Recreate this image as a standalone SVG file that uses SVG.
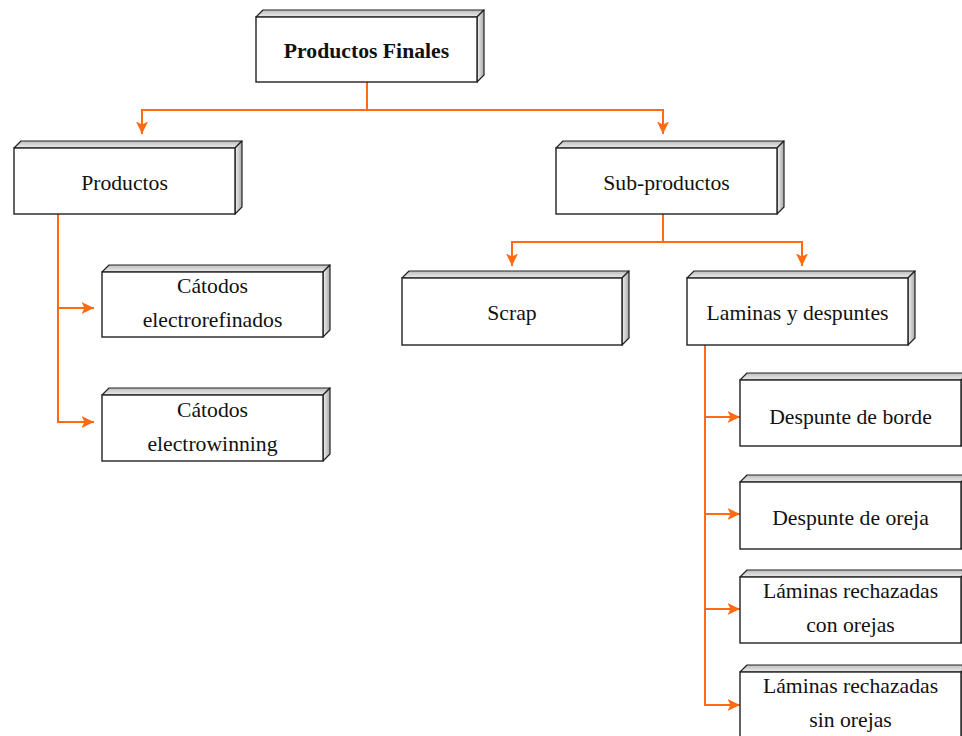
<svg xmlns="http://www.w3.org/2000/svg" width="962" height="736" viewBox="0 0 962 736">
  <defs>
    <linearGradient id="topFace" x1="0" y1="0" x2="0" y2="1">
      <stop offset="0" stop-color="#bdbdbd"/>
      <stop offset="1" stop-color="#ececec"/>
    </linearGradient>
    <linearGradient id="sideFace" x1="0" y1="0" x2="1" y2="0">
      <stop offset="0" stop-color="#f2f2f2"/>
      <stop offset="1" stop-color="#a8a8a8"/>
    </linearGradient>
    <marker id="arrow" markerUnits="userSpaceOnUse" markerWidth="14" markerHeight="14" viewBox="0 0 14 14" refX="12.5" refY="7" orient="auto">
      <path d="M0,1 L12.5,7 L0,13 L3,7 Z" fill="#ff6a13"/>
    </marker>
  </defs>
  <style>
    .front { fill: #ffffff; stroke: #222; stroke-width: 1.4; }
    .top { fill: url(#topFace); stroke: #222; stroke-width: 1.2; stroke-linejoin: round; }
    .side { fill: url(#sideFace); stroke: #222; stroke-width: 1.2; stroke-linejoin: round; }
    .lbl { font-family: "Liberation Serif", "Times New Roman", serif; font-size: 21.7px; fill: #111; text-anchor: middle; }
    .bold { font-weight: bold; }
    .wire { fill: none; stroke: #ff6a13; stroke-width: 2; }
  </style>

  <!-- connectors -->
  <g id="connectors">
    <path class="wire" d="M367,82 V110 H142 V134" marker-end="url(#arrow)"/>
    <path class="wire" d="M367,110 H663 V134" marker-end="url(#arrow)"/>
    <path class="wire" d="M58,214 V422 H94" marker-end="url(#arrow)"/>
    <path class="wire" d="M58,308 H94" marker-end="url(#arrow)"/>
    <path class="wire" d="M663,214 V242 H512 V266" marker-end="url(#arrow)"/>
    <path class="wire" d="M663,242 H802 V266" marker-end="url(#arrow)"/>
    <path class="wire" d="M705,345 V705 H740" marker-end="url(#arrow)"/>
    <path class="wire" d="M705,417 H740" marker-end="url(#arrow)"/>
    <path class="wire" d="M705,514 H740" marker-end="url(#arrow)"/>
    <path class="wire" d="M705,609 H740" marker-end="url(#arrow)"/>
  </g>

  <!-- nodes: front face at (x,y,w,h), bevel depth 7 -->
  <g id="productos-finales">
    <polygon class="top" points="256,17 263,10 484,10 477,17"/>
    <polygon class="side" points="477,17 484,10 484,75 477,82"/>
    <rect class="front" x="256" y="17" width="221" height="65"/>
    <text class="lbl bold" x="366.5" y="58">Productos Finales</text>
  </g>

  <g id="productos">
    <polygon class="top" points="14,148 21,141 242,141 235,148"/>
    <polygon class="side" points="235,148 242,141 242,207 235,214"/>
    <rect class="front" x="14" y="148" width="221" height="66"/>
    <text class="lbl" x="124.5" y="190">Productos</text>
  </g>

  <g id="sub-productos">
    <polygon class="top" points="556,148 563,141 784,141 777,148"/>
    <polygon class="side" points="777,148 784,141 784,207 777,214"/>
    <rect class="front" x="556" y="148" width="221" height="66"/>
    <text class="lbl" x="666.5" y="190">Sub-productos</text>
  </g>

  <g id="catodos-electrorefinados">
    <polygon class="top" points="102,272 109,265 330,265 323,272"/>
    <polygon class="side" points="323,272 330,265 330,330 323,337"/>
    <rect class="front" x="102" y="272" width="221" height="65"/>
    <text class="lbl" x="212.5" y="293">Cátodos</text>
    <text class="lbl" x="212.5" y="327">electrorefinados</text>
  </g>

  <g id="catodos-electrowinning">
    <polygon class="top" points="102,395 109,388 330,388 323,395"/>
    <polygon class="side" points="323,395 330,388 330,454 323,461"/>
    <rect class="front" x="102" y="395" width="221" height="66"/>
    <text class="lbl" x="212.5" y="417">Cátodos</text>
    <text class="lbl" x="212.5" y="451">electrowinning</text>
  </g>

  <g id="scrap">
    <polygon class="top" points="402,278 409,271 629,271 622,278"/>
    <polygon class="side" points="622,278 629,271 629,338 622,345"/>
    <rect class="front" x="402" y="278" width="220" height="67"/>
    <text class="lbl" x="512" y="320">Scrap</text>
  </g>

  <g id="laminas-y-despuntes">
    <polygon class="top" points="687,278 694,271 915,271 908,278"/>
    <polygon class="side" points="908,278 915,271 915,338 908,345"/>
    <rect class="front" x="687" y="278" width="221" height="67"/>
    <text class="lbl" x="797.5" y="320">Laminas y despuntes</text>
  </g>

  <g id="despunte-de-borde">
    <polygon class="top" points="740,380 747,373 968,373 961,380"/>
    <polygon class="side" points="961,380 968,373 968,439 961,446"/>
    <rect class="front" x="740" y="380" width="221" height="66"/>
    <text class="lbl" x="850.5" y="424">Despunte de borde</text>
  </g>

  <g id="despunte-de-oreja">
    <polygon class="top" points="740,482 747,475 968,475 961,482"/>
    <polygon class="side" points="961,482 968,475 968,542 961,549"/>
    <rect class="front" x="740" y="482" width="221" height="67"/>
    <text class="lbl" x="850.5" y="525">Despunte de oreja</text>
  </g>

  <g id="laminas-con-orejas">
    <polygon class="top" points="740,577 747,570 968,570 961,577"/>
    <polygon class="side" points="961,577 968,570 968,636 961,643"/>
    <rect class="front" x="740" y="577" width="221" height="66"/>
    <text class="lbl" x="850.5" y="598">Láminas rechazadas</text>
    <text class="lbl" x="850.5" y="632">con orejas</text>
  </g>

  <g id="laminas-sin-orejas">
    <polygon class="top" points="740,672 747,665 968,665 961,672"/>
    <polygon class="side" points="961,672 968,665 968,740 961,747"/>
    <rect class="front" x="740" y="672" width="221" height="75"/>
    <text class="lbl" x="850.5" y="693">Láminas rechazadas</text>
    <text class="lbl" x="850.5" y="727">sin orejas</text>
  </g>
</svg>
